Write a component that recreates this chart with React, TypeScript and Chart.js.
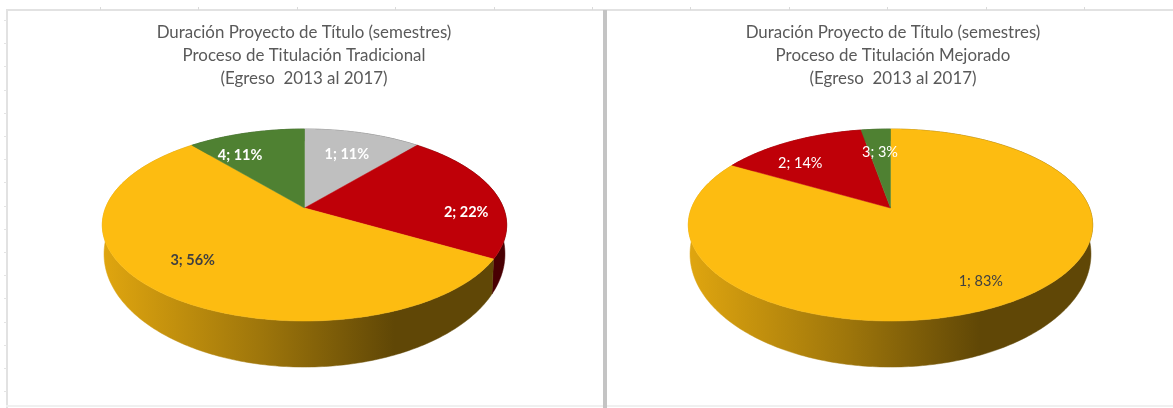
import React, { useEffect, useRef } from "react";
import { Chart, registerables } from "chart.js";

Chart.register(...registerables);

const leftTitle = ["Duración Proyecto de Título (semestres)", "Proceso de Titulación Tradicional", "(Egreso  2013 al 2017)"];
const rightTitle = ["Duración Proyecto de Título (semestres)", "Proceso de Titulación Mejorado", "(Egreso  2013 al 2017)"];
const leftCategories = ["1", "2", "3", "4"];
const leftValues = [2, 4, 10, 2];
const rightCategories = ["1", "2", "3"];
const rightValues = [30, 5, 1];

const GREY = "#BFBFBF";
const RED = "#BF0008";
const YELLOW = "#FDBC11";
const GREEN = "#4F8132";
const leftColors = [GREY, RED, YELLOW, GREEN];
const rightColors = [YELLOW, RED, GREEN];
const leftLabelColors = ["#FFFFFF", "#FFFFFF", "#404040", "#FFFFFF"];
const rightLabelColors = ["#404040", "#FFFFFF", "#FFFFFF"];
const leftLabelShift = [[-3, 5], [18, 16], [-5, -7], [-19, 6]];
const rightLabelShift = [[6, 5], [-13, 7], [1, 6]];

const PERSPECTIVE = 0.177;
const TOP_FACE = { a: 199, b: 93, y: 208 };
const WALL_FACE = { a: 197.3, b: 109.5, y: 234 };

const rgb = (hex: string) => [1, 3, 5].map((i) => parseInt(hex.slice(i, i + 2), 16));
const shade = (hex: string, f: number) => {
  const c = rgb(hex).map((v) => Math.round(v * f));
  return `rgb(${c[0]},${c[1]},${c[2]})`;
};

function project(cx: number, face: any, angle: number, t = 1) {
  const u = Math.cos(angle);
  const v = -Math.sin(angle);
  const d = 1 + PERSPECTIVE * t * v;
  return { x: cx + (face.a * t * u) / d, y: face.y - (face.b * t * v) / d };
}

function samples(start: number, end: number) {
  const n = Math.max(2, Math.ceil((end - start) / 0.015));
  const out: number[] = [];
  for (let i = 0; i <= n; i++) out.push(start + ((end - start) * i) / n);
  return out;
}

const pie3d = {
  id: "pie3d",
  beforeDatasetsDraw(chart: any, _a: any, opts: any) {
    const ctx = chart.ctx;
    const arcs = chart.getDatasetMeta(0).data;
    const cx = opts.cx;
    const total = chart.data.datasets[0].data.reduce((s: number, v: number) => s + v, 0);

    ctx.save();
    // side wall, shaded from left to right
    arcs.forEach((arc: any) => {
      const color = arc.options.backgroundColor;
      const grad = ctx.createLinearGradient(cx - 200, 0, cx + 90, 0);
      grad.addColorStop(0, shade(color, 0.88));
      grad.addColorStop(0.55, shade(color, 0.62));
      grad.addColorStop(1, shade(color, 0.38));
      ctx.fillStyle = grad;
      ctx.strokeStyle = grad;
      ctx.lineWidth = 0.5;
      const angles = samples(arc.startAngle, arc.endAngle);
      ctx.beginPath();
      angles.forEach((a, i) => {
        const p = project(cx, TOP_FACE, a);
        i ? ctx.lineTo(p.x, p.y) : ctx.moveTo(p.x, p.y);
      });
      angles.slice().reverse().forEach((a) => {
        const p = project(cx, WALL_FACE, a);
        ctx.lineTo(p.x, p.y);
      });
      ctx.closePath();
      ctx.fill();
      ctx.stroke();
    });

    // top face
    arcs.forEach((arc: any) => {
      ctx.fillStyle = arc.options.backgroundColor;
      ctx.strokeStyle = arc.options.backgroundColor;
      ctx.lineWidth = 0.5;
      ctx.beginPath();
      ctx.moveTo(cx, TOP_FACE.y);
      samples(arc.startAngle, arc.endAngle).forEach((a) => {
        const p = project(cx, TOP_FACE, a);
        ctx.lineTo(p.x, p.y);
      });
      ctx.closePath();
      ctx.fill();
      ctx.stroke();
    });

    // data labels
    ctx.textAlign = "center";
    ctx.textBaseline = "middle";
    ctx.font = opts.font;
    arcs.forEach((arc: any, i: number) => {
      const p = project(cx, TOP_FACE, (arc.startAngle + arc.endAngle) / 2, 0.75);
      const value = chart.data.datasets[0].data[i];
      const text = `${chart.data.labels[i]}; ${Math.round((value / total) * 100)}%`;
      ctx.fillStyle = opts.labelColors[i];
      ctx.fillText(text, p.x + opts.shift[i][0], p.y + opts.shift[i][1]);
    });
    ctx.restore();
    return false;
  },
};

function Pie(props: any) {
  const ref = useRef<HTMLCanvasElement>(null);
  useEffect(() => {
    const chart = new Chart(ref.current as HTMLCanvasElement, {
      type: "pie",
      data: {
        labels: props.categories,
        datasets: [{ data: props.values, backgroundColor: props.colors, borderWidth: 0 }],
      },
      options: {
        animation: false,
        responsive: false,
        events: [],
        plugins: {
          legend: { display: false },
          tooltip: { enabled: false },
          title: {
            display: true,
            text: props.title,
            color: "#595959",
            font: { family: "Lato", size: 16.9, weight: "normal", lineHeight: 1.37 },
            padding: { top: 20.5, bottom: 0 },
          },
          pie3d: { cx: props.cx, labelColors: props.labelColors, shift: props.shift, font: props.font },
        } as any,
      },
      plugins: [pie3d as any],
    });
    return () => chart.destroy();
  }, []);
  return (
    <canvas
      ref={ref}
      width={props.width}
      height={408}
      style={{ position: "absolute", left: props.left, top: 0, width: props.width, height: 408 }}
    />
  );
}

const line = "#E2E2E2";

export default function App() {
  return (
    <div
      style={{
        position: "fixed",
        left: 0,
        top: 0,
        width: 1173,
        height: 408,
        background: "#FFFFFF",
        overflow: "hidden",
        filter: "blur(0.4px)",
      }}
    >
      <div style={{ position: "absolute", left: 6, top: 9, width: 1167, height: 2, background: line }} />
      <div style={{ position: "absolute", left: 6, top: 9, width: 2, height: 399, background: line }} />
      <div style={{ position: "absolute", left: 6, top: 405, width: 1167, height: 2, background: "#F0F0F0" }} />
      <div style={{ position: "absolute", left: 603, top: 10, width: 4, height: 398, background: "#C4C4C4" }} />
      <div
        style={{
          position: "absolute",
          left: 100,
          top: 7,
          width: 1073,
          height: 3,
          background: "repeating-linear-gradient(90deg,#DADADA 0 1px,transparent 1px 98.4px)",
        }}
      />
      <div
        style={{
          position: "absolute",
          left: 4,
          top: 20,
          width: 3,
          height: 388,
          background: "repeating-linear-gradient(180deg,#E4E4E4 0 1px,transparent 1px 23.2px)",
        }}
      />
      <Pie
        left={0}
        width={608}
        cx={304.5}
        title={leftTitle}
        categories={leftCategories}
        values={leftValues}
        colors={leftColors}
        labelColors={leftLabelColors}
        shift={leftLabelShift}
        font="bold 14.5px Lato"
      />
      <Pie
        left={613}
        width={560}
        cx={277.5}
        title={rightTitle}
        categories={rightCategories}
        values={rightValues}
        colors={rightColors}
        labelColors={rightLabelColors}
        shift={rightLabelShift}
        font="14.5px Lato"
      />
    </div>
  );
}
